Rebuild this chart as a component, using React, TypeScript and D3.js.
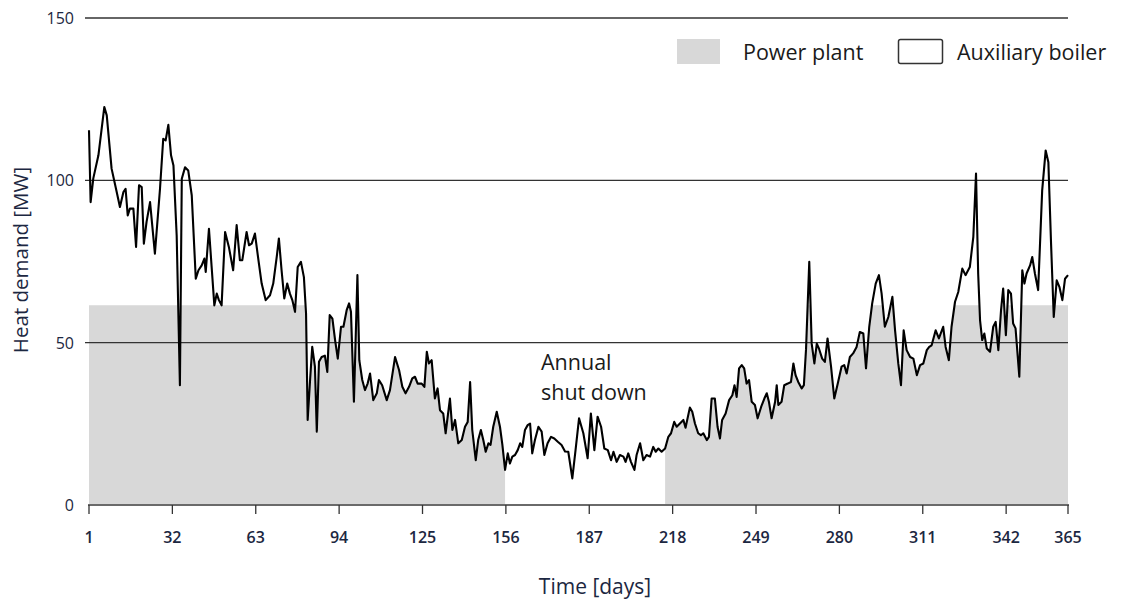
import React from "react";
import * as d3 from "d3";

// ---- data ----
const days = [
  1, 1.6, 2.6, 4.5, 6.7, 7.6, 9.4, 11.3, 12.5, 13.8, 14.6, 15.4, 16.2, 17.5, 18.5, 19.6, 20.6, 21.4, 22.4, 23.7,
  25.5, 27.4, 28.6, 29.5, 30.5, 31.5, 32.4, 33.6, 34.8, 35.5, 36.7, 37.9, 39.2, 40.7, 41.7, 42.9, 43.9, 44.4, 45.6, 46.6,
  47.6, 48.5, 49.3, 50.3, 51.6, 53, 54.6, 55.9, 57.1, 58, 59.6, 60.5, 61.5, 62.7, 64, 65.2, 66.7, 68.3, 69.5, 70.8,
  71.6, 72.6, 73.6, 74.7, 75.7, 76.6, 77.6, 78.6, 79.8, 80.9, 81.7, 82.3, 83.2, 84, 85, 85.7, 86.5, 87.5, 88.7, 89.6,
  90.5, 91.5, 92.5, 93.5, 94.7, 95.6, 96.8, 97.7, 98.4, 99.5, 100.8, 101.5, 102.6, 103.6, 104.6, 105.5, 106.7, 108, 108.8, 110,
  111.7, 112.9, 114.8, 116.3, 117.5, 118.7, 120, 121.2, 122.2, 123.2, 124.7, 125.7, 126.6, 127.4, 128.4, 129.6, 130.6, 131.5, 132.7, 133.6,
  135.2, 136.1, 137.1, 138.3, 139.6, 140.8, 141.8, 142.7, 143.5, 144.8, 145.7, 146.7, 147.6, 148.5, 149.5, 150.3, 151.3, 152.6, 153.8, 154.7,
  155.7, 156.7, 157.5, 158.4, 159.4, 160.4, 161.3, 162.1, 163.1, 164.1, 165, 165.8, 166.8, 168.1, 169.3, 170.3, 171.5, 172.8, 174, 175.3,
  176.7, 178, 179.2, 180.7, 181.9, 183.2, 184.8, 186.4, 187.6, 188.9, 190.1, 191.4, 192.6, 193.9, 195.1, 196, 197.2, 198.4, 199.7, 200.5,
  201.5, 202.5, 203.8, 204.6, 205.9, 207.1, 208.3, 209.6, 210.8, 211.7, 212.7, 213.9, 215.2, 216.4, 217.4, 218.6, 219.5, 220.7, 222, 222.8,
  224.4, 225.3, 226.3, 227.5, 228.5, 229.4, 230.7, 231.5, 232.5, 233.7, 234.7, 235.6, 236.4, 237.7, 239, 240.2, 241, 241.8, 242.7, 243.7,
  244.6, 245.5, 246.4, 247.4, 248.6, 249.6, 250.9, 252.1, 253, 253.8, 254.8, 256.1, 256.7, 257.3, 258.5, 259.5, 260.8, 262, 262.9, 263.7,
  264.7, 266, 266.8, 267.6, 268.8, 269.7, 270.7, 271.6, 272.4, 273.6, 274.6, 275.6, 276.9, 278.1, 279.4, 280.8, 281.8, 282.7, 283.9, 285.1,
  286.4, 287.6, 288.9, 289.9, 291.1, 292.2, 293.5, 294.7, 295.7, 296.9, 298.2, 299.7, 300.7, 301.9, 302.9, 303.9, 305, 306.3, 307.5, 308.8,
  310, 311.2, 312.5, 313.4, 314.3, 315.8, 317, 318.6, 319.5, 320.7, 321.7, 323, 324.2, 325.7, 326.9, 328.5, 329.8, 330.8, 331.6, 332.3,
  333.1, 333.9, 334.8, 336, 337.2, 338.1, 339.1, 340.1, 340.9, 341.9, 342.8, 343.8, 344.6, 345.5, 346.9, 348, 348.8, 349.6, 350.9, 351.7,
  352.7, 353.9, 355.4, 356.7, 357.7, 358.7, 359.7, 360.8, 361.8, 362.9, 363.9, 365,
];
const demand = [
  115.4, 93.3, 100.6, 107.7, 122.6, 120, 103.6, 96.4, 91.8, 96.4, 97.4, 89.2, 91.3, 91.3, 79.5, 98.5, 97.9, 80.5, 87.2, 93.3,
  77.4, 97.4, 112.8, 112.3, 117.1, 107.7, 104.6, 83, 36.9, 100.5, 104, 103, 95.4, 69.7, 72.3, 73.8, 75.9, 71.8, 85.1, 73.3,
  61.5, 65.1, 63.1, 61.5, 84.1, 79.5, 72.3, 86.2, 75.4, 75.4, 84.1, 80, 80.5, 83.6, 75.4, 68.2, 63.1, 64.6, 68.2, 76.4,
  82.1, 72.3, 63.6, 68.2, 65.1, 63.1, 59.5, 73.3, 74.9, 70.2, 59, 26.2, 38.5, 48.7, 42.6, 22.6, 44.1, 45.6, 46, 41,
  58.5, 57.4, 50.8, 45.1, 54.9, 54.9, 60, 62.1, 59.5, 31.8, 70.8, 44.6, 38.5, 35.4, 37.4, 40.5, 32.3, 34.4, 38.5, 36.9,
  32.3, 35.4, 45.6, 41.5, 36.4, 34.4, 36.4, 39, 39.5, 37.4, 37.4, 36.4, 47.2, 43.6, 44.6, 32.8, 35.9, 29.2, 28.2, 22.1,
  32.8, 23.1, 26.2, 19, 20, 24.1, 25.6, 37.9, 23.1, 13.8, 20, 23.1, 20, 16.4, 19, 18.5, 24.1, 28.7, 24.1, 18.5,
  10.8, 15.9, 12.8, 14.9, 15.4, 16.9, 19, 17.9, 23.1, 24.6, 25.1, 15.9, 20, 24.1, 22.6, 15.4, 19, 21, 20.5, 19.5,
  18.5, 16.5, 16.4, 8.2, 16.9, 26.7, 22.1, 14.4, 28.2, 16.9, 27.2, 24.1, 17.4, 16.9, 13.8, 16.4, 13.3, 15.4, 14.9, 13.3,
  15.9, 13.3, 10.8, 15.4, 19, 13.8, 15.4, 14.9, 17.9, 16.4, 17.4, 16.4, 17.4, 21, 22.1, 25.6, 24.1, 25.1, 26.2, 23.8,
  30, 28.7, 25.1, 22.1, 21.5, 22.1, 20, 21, 32.8, 32.8, 24.1, 20.5, 26.2, 28.2, 32.3, 33.8, 36.9, 33.3, 42.1, 43.1,
  42.1, 37.4, 38.5, 31.8, 30.8, 26.7, 30.2, 32.8, 34.4, 31.8, 26.7, 31.8, 36.9, 30.8, 31.8, 36.9, 37.4, 37.9, 43.6, 40,
  37.9, 35.9, 36.9, 48, 74.9, 49.7, 43.6, 49.7, 48.2, 45.1, 44.1, 51.3, 42.6, 32.8, 37.4, 42.6, 43.1, 40.5, 45.6, 46.7,
  48.7, 53.3, 52.8, 42.1, 54.9, 62.1, 68.2, 70.8, 65.1, 54.9, 57.9, 64.1, 53.8, 43.6, 36.9, 53.8, 47.7, 45.6, 45.1, 40,
  43.1, 43.6, 47.7, 48.7, 49.2, 53.8, 51.3, 54.9, 48.7, 44.6, 54.9, 62.6, 65.6, 72.8, 70.8, 73.3, 82.6, 102.1, 71.3, 56.9,
  50.8, 52.8, 48.2, 47.2, 54.9, 56.4, 47.7, 60, 66.7, 52.3, 66.2, 65.1, 55.9, 54.4, 39.5, 72.3, 68.2, 71.3, 73.8, 76.4,
  71.3, 66.2, 96.9, 109.2, 105.6, 80.5, 57.9, 69.2, 67.2, 63.1, 69.7, 70.8,
];
const plantCapacity = 61.5; // MW covered by the power plant
const shutdownStart = 155.7;
const shutdownEnd = 215.2;
const xTicks = [1, 32, 63, 94, 125, 156, 187, 218, 249, 280, 311, 342, 365];
const yTicks = [0, 50, 100, 150];
const legendItems = ["Power plant", "Auxiliary boiler"];

export default function App() {
  const W = 1125, H = 601;
  const x = d3.scaleLinear().domain([1, 365]).range([89, 1068]);
  const y = d3.scaleLinear().domain([0, 150]).range([505, 18]);
  const pts = days.map((d, i) => ({ d, v: demand[i] }));
  const area = d3.area<{ d: number; v: number }>().x(p => x(p.d)).y0(y(0)).y1(p => y(p.v));
  const line = d3.line<{ d: number; v: number }>().x(p => x(p.d)).y(p => y(p.v));
  const gray = "#d8d8d8";
  const navy = "#1c2741";
  const font = "'Open Sans', sans-serif";

  return (
    <svg width={W} height={H} style={{ position: "absolute", left: 0, top: 0, background: "#fff" }}>
      <defs>
        <clipPath id="plantClip">
          <rect x={x(1)} y={y(plantCapacity)} width={x(shutdownStart) - x(1)} height={y(0) - y(plantCapacity)} />
          <rect x={x(shutdownEnd)} y={y(plantCapacity)} width={x(365) - x(shutdownEnd)} height={y(0) - y(plantCapacity)} />
        </clipPath>
      </defs>
      <path d={area(pts) || ""} fill={gray} clipPath="url(#plantClip)" />
      {yTicks.filter(t => t > 0).map(t => (
        <line key={t} x1={85} x2={x(365)} y1={y(t)} y2={y(t)} stroke="#333" strokeWidth={1.3} />
      ))}
      <line x1={x(1) - 1} x2={x(365) + 1} y1={y(0)} y2={y(0)} stroke="#6a6a6a" strokeWidth={2} />
      {xTicks.map(t => (
        <g key={t}>
          <line x1={x(t)} x2={x(t)} y1={y(0)} y2={y(0) + 9} stroke="#333" strokeWidth={1.3} />
          <text x={x(t)} y={543} textAnchor="middle" fontFamily={font} fontWeight={600} fontSize={16} fill={navy}>{t}</text>
        </g>
      ))}
      {yTicks.map(t => (
        <text key={t} x={74} y={y(t) + 6} textAnchor="end" fontFamily={font} fontSize={16} fill={navy}>{t}</text>
      ))}
      <path d={line(pts) || ""} fill="none" stroke="#000" strokeWidth={2.1} strokeLinejoin="round" />
      <text transform="translate(28,260) rotate(-90)" textAnchor="middle" fontFamily={font} fontSize={20.5} fill={navy}>Heat demand [MW]</text>
      <text x={595} y={594} textAnchor="middle" fontFamily={font} fontSize={21} fill={navy}>Time [days]</text>
      <text x={541} y={370} fontFamily={font} fontSize={21.5} fill="#1a1a1a">Annual</text>
      <text x={541} y={400} fontFamily={font} fontSize={21.5} fill="#1a1a1a">shut down</text>
      <rect x={677} y={39} width={43} height={25} fill={gray} />
      <text x={743} y={60} fontFamily={font} fontSize={21.5} fill="#1a1a1a">{legendItems[0]}</text>
      <rect x={898.5} y={39.5} width={44} height={24} rx={2} fill="#fff" stroke="#333" strokeWidth={1.5} />
      <text x={957} y={60} fontFamily={font} fontSize={21.5} fill="#1a1a1a">{legendItems[1]}</text>
    </svg>
  );
}
